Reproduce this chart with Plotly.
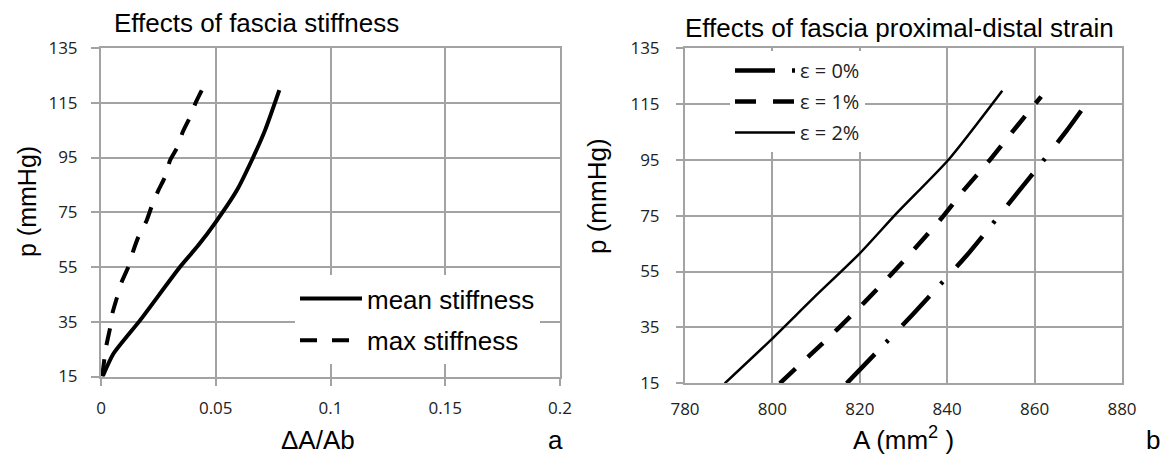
import plotly.graph_objects as go

W, H = 1164, 458

# ---------------- data: panel a (ΔA/Ab vs p) ----------------
mean_x = [0.0007, 0.0054, 0.0170, 0.0344, 0.0424, 0.0500, 0.0592, 0.0657, 0.0715, 0.0777]
mean_p = [15, 23.3, 35.5, 55, 62.9, 71.4, 83, 94, 105, 119.6]

max_x = [0.0005, 0.0022, 0.0039, 0.0051, 0.0068, 0.0090, 0.0119, 0.0141, 0.0163,
         0.0199, 0.0221, 0.0250, 0.0279, 0.0301, 0.0333, 0.0356, 0.0388, 0.0414, 0.0443]
max_p = [15, 25.7, 32.5, 38.5, 43.4, 49.5, 55, 61, 66,
         72, 77.2, 83, 87.9, 94, 98.8, 104.3, 109.8, 115.3, 120.2]

# ---------------- data: panel b (A vs p) ----------------
A0 = [817.0, 825.7, 832.1, 838.2, 844.4, 850.3, 856.05, 861.7, 867.3, 872.7]
p0 = [15, 29.1, 39.65, 50, 60.65, 71.9, 83.15, 94.1, 105.35, 117]

A1 = [801.7, 808.65, 814.9, 821.0, 826.95, 832.65, 838.5, 843.85, 849.35, 854.7, 860.15, 861.5]
p1 = [15, 25.15, 34.4, 43.9, 53.6, 63.3, 73.7, 84.2, 94.15, 104.6, 115.05, 117.6]

A2 = [789.1, 799.8, 809.3, 820.0, 828.4, 840.4, 852.6]
p2 = [15, 30.75, 45.4, 61.5, 75.8, 95.2, 119.7]

left_names = ["mean stiffness", "max stiffness"]
right_names = ["\u03b5 = 0%", "\u03b5 = 1%", "\u03b5 = 2%"]

GRID = "#a3a3a3"
TICKC = "#222222"
TXT = "Liberation Sans"


def px_x(p):
    return p / W


def px_y(p):
    return 1 - p / H


fig = go.Figure()

fig.add_trace(go.Scatter(x=mean_x, y=mean_p, mode="lines", name=left_names[0],
                         line=dict(color="black", width=4, shape="spline", smoothing=0.6),
                         xaxis="x", yaxis="y", legend="legend", legendgroup="a1"))
fig.add_trace(go.Scatter(x=max_x, y=max_p, mode="lines", name=left_names[1],
                         line=dict(color="black", width=4, dash="17px,15px", shape="spline", smoothing=0.5),
                         xaxis="x", yaxis="y", legend="legend", legendgroup="a2"))

fig.add_trace(go.Scatter(x=A0, y=p0, mode="lines", name=right_names[0],
                         line=dict(color="black", width=4.5, dash="40px,17px,3px,20px",
                                   shape="spline", smoothing=0.6),
                         xaxis="x2", yaxis="y2", legend="legend2", legendgroup="b0"))
fig.add_trace(go.Scatter(x=A1, y=p1, mode="lines", name=right_names[1],
                         line=dict(color="black", width=4.5, dash="21px,17px",
                                   shape="spline", smoothing=0.6),
                         xaxis="x2", yaxis="y2", legend="legend2", legendgroup="b1"))
fig.add_trace(go.Scatter(x=A2, y=p2, mode="lines", name=right_names[2],
                         line=dict(color="black", width=2.5, shape="spline", smoothing=0.6),
                         xaxis="x2", yaxis="y2", legend="legend2", legendgroup="b2"))

tickfont = dict(family="Open Sans", size=17, color=TICKC)
common = dict(showgrid=True, gridcolor=GRID, gridwidth=2, showline=True, linecolor=GRID,
              linewidth=2, mirror=True, zeroline=False, tickfont=tickfont, tickcolor=GRID,
              tickwidth=2, fixedrange=True, automargin=False)

fig.update_layout(
    width=W, height=H, margin=dict(l=0, r=0, t=0, b=0, pad=0),
    paper_bgcolor="white", plot_bgcolor="white",
    xaxis=dict(domain=[px_x(101), px_x(560)], range=[0, 0.2], dtick=0.05, tick0=0,
               ticks="outside", ticklen=7, ticklabelstandoff=8, anchor="y", **common),
    yaxis=dict(domain=[px_y(376.5), px_y(48)], range=[15, 135], dtick=20, tick0=15,
               ticks="outside", ticklen=8, ticklabelstandoff=10, anchor="x", **common),
    xaxis2=dict(domain=[px_x(685), px_x(1122)], range=[780, 880], dtick=20, tick0=780,
                ticks="", ticklabelstandoff=9, anchor="y2", **common),
    yaxis2=dict(domain=[px_y(383.3), px_y(48)], range=[15, 135], dtick=20, tick0=15,
                ticks="outside", ticklen=7, ticklabelstandoff=13, anchor="x2", **common),
    showlegend=True,
    legend=dict(x=px_x(295), y=px_y(275), xanchor="left", yanchor="top",
                bgcolor="white", borderwidth=0, itemwidth=62, tracegroupgap=5,
                traceorder="grouped", font=dict(family=TXT, size=26, color="black")),
    legend2=dict(x=px_x(730), y=px_y(51), xanchor="left", yanchor="top",
                 bgcolor="white", borderwidth=0, itemwidth=60, tracegroupgap=2,
                 traceorder="grouped", font=dict(family="Open Sans", size=20, color=TICKC)),
)

anns = [
    dict(text="Effects of fascia stiffness", x=px_x(256), y=px_y(23), size=26, yanchor="middle"),
    dict(text="Effects of fascia proximal-distal strain", x=px_x(899), y=px_y(28), size=26, yanchor="middle"),
    dict(text="p (mmHg)", x=px_x(27), y=px_y(202), textangle=-90, size=25, yanchor="middle"),
    dict(text="p (mmHg)", x=px_x(597), y=px_y(196), textangle=-90, size=26, yanchor="middle"),
    dict(text="\u0394A/Ab", x=px_x(318), y=px_y(457), size=26, yanchor="bottom"),
    dict(text="A (mm<sup>2</sup> )", x=px_x(903), y=px_y(457), size=26, yanchor="bottom"),
    dict(text="a", x=px_x(555), y=px_y(457), size=26, yanchor="bottom"),
    dict(text="b", x=px_x(1153), y=px_y(457), size=26, yanchor="bottom"),
]
for a in anns:
    size = a.pop("size")
    fig.add_annotation(xref="paper", yref="paper", showarrow=False, xanchor="center",
                       font=dict(family=TXT, size=size, color="black"), **a)

fig.write_html("out.html")
